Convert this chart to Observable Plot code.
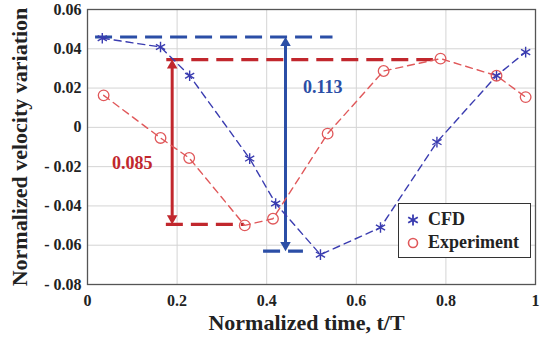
<!DOCTYPE html>
<html><head><meta charset="utf-8">
<script src="https://cdn.jsdelivr.net/npm/d3@7"></script>
<script src="https://cdn.jsdelivr.net/npm/@observablehq/plot@0.6"></script>
<style>
body{margin:0;background:#fff;}
#wrap{position:relative;width:541px;height:337px;font-family:"Liberation Serif","Times New Roman",serif;}
#legend{position:absolute;left:398px;top:203px;width:131px;height:53px;border:1.3px solid #333;background:#fff;font-weight:bold;font-size:18px;color:#222;}
#legend .it{position:absolute;left:8px;display:flex;align-items:center;}
#legend svg{margin-right:9px;}
</style></head><body><div id="wrap"></div>
<script>
// ---- data ----
const cfdT = [0.033, 0.163, 0.228, 0.362, 0.420, 0.520, 0.654, 0.780, 0.913, 0.978];
const cfdV = [0.0454, 0.0409, 0.0263, -0.0159, -0.0388, -0.0648, -0.0510, -0.0075, 0.0263, 0.0383];
const expT = [0.036, 0.163, 0.227, 0.351, 0.414, 0.536, 0.661, 0.788, 0.913, 0.978];
const expV = [0.0163, -0.0054, -0.0156, -0.0499, -0.0465, -0.0032, 0.0287, 0.0350, 0.0263, 0.0154];
const xTicks = [0, 0.2, 0.4, 0.6, 0.8, 1];
const yTicks = [-0.08, -0.06, -0.04, -0.02, 0, 0.02, 0.04, 0.06];
// range annotations: [max, min, label]
const cfdRange = [0.046, -0.063, "0.113"];
const expRange = [0.0345, -0.0494, "0.085"];

const blue = "#3a3cb0", red = "#e0585a";
const aBlue = "#2b4ea6", aRed = "#c1272d";
const FONT = '"Liberation Serif","Times New Roman",serif';

const cfd = cfdT.map((t, i) => ({t, v: cfdV[i]}));
const exp = expT.map((t, i) => ({t, v: expV[i]}));

const yFmt = d => d === 0 ? "0" : (d < 0 ? "- " + Math.abs(d).toFixed(2) : d.toFixed(2));
const xFmt = d => d === 0 ? "0" : d === 1 ? "1" : d.toFixed(1);

function rangeMarks(r, color, xLine1, xLow1, xLow2, xArrow, labelPos) {
  const [hi, lo, lab] = r;
  return [
    Plot.ruleY([hi], {x1: xLine1[0], x2: xLine1[1], stroke: color, strokeWidth: 3.2, strokeDasharray: "17,8"}),
    Plot.ruleY([lo], {x1: xLow1, x2: xLow2, stroke: color, strokeWidth: 3.2, strokeDasharray: "17,8"}),
    Plot.ruleX([xArrow], {y1: hi, y2: lo, stroke: color, strokeWidth: 3, insetTop: 8, insetBottom: 8}),
    Plot.dot([{x: xArrow, y: hi}], {x: "x", y: "y", symbol: "triangle", r: 3.9, fill: color, stroke: "none", dy: 6}),
    Plot.dot([{x: xArrow, y: lo}], {x: "x", y: "y", symbol: "triangle", r: 3.9, fill: color, stroke: "none", dy: -6, rotate: 180}),
    Plot.text([lab], {x: labelPos[0], y: labelPos[1], text: d => d, fill: color, fontSize: 18, fontWeight: "bold", fontFamily: FONT})
  ];
}

const plot = Plot.plot({
  width: 541, height: 337,
  marginLeft: 87, marginRight: 6, marginTop: 9, marginBottom: 53,
  style: {fontFamily: FONT, fontWeight: "bold", fontSize: "16px", color: "#222", background: "#fff"},
  x: {domain: [0, 1]},
  y: {domain: [-0.08, 0.06]},
  marks: [
    Plot.gridX(xTicks, {stroke: "#d4d4d4", strokeOpacity: 1}),
    Plot.gridY(yTicks, {stroke: "#d4d4d4", strokeOpacity: 1}),
    Plot.axisX(xTicks, {tickFormat: xFmt, tickSize: 0, tickPadding: 10, label: null, fontSize: 16, fontFamily: FONT}),
    Plot.axisY(yTicks, {tickFormat: yFmt, tickSize: 0, tickPadding: 6, label: null, fontSize: 16, fontFamily: FONT}),
    Plot.frame({stroke: "#555", strokeWidth: 1.3}),
    ...rangeMarks(cfdRange, aBlue, [0.018, 0.548], 0.393, 0.482, 0.442, [0.525, 0.0204]),
    ...rangeMarks(expRange, aRed, [0.177, 0.772], 0.176, 0.35, 0.189, [0.1, -0.0184]),
    Plot.line(cfd, {x: "t", y: "v", stroke: blue, strokeWidth: 1.4, strokeDasharray: "7,5"}),
    Plot.line(exp, {x: "t", y: "v", stroke: red, strokeWidth: 1.4, strokeDasharray: "7,5"}),
    Plot.dot(cfd, {x: "t", y: "v", symbol: "asterisk", r: 5, stroke: blue, strokeWidth: 1.4}),
    Plot.dot(exp, {x: "t", y: "v", r: 5.3, stroke: red, fill: "none", strokeWidth: 1.3}),
    Plot.text(["Normalized time, t/T"], {frameAnchor: "bottom", dx: -5, dy: 45, text: d => d, fontSize: 22, fontWeight: "bold", fill: "#222", fontFamily: FONT}),
    Plot.text(["Normalized velocity variation"], {frameAnchor: "left", textAnchor: "middle", dx: -68, rotate: -90, text: d => d, fontSize: 22, fontWeight: "bold", fill: "#222", fontFamily: FONT})
  ]
});
const wrap = document.getElementById("wrap");
wrap.appendChild(plot);
const leg = document.createElement("div");
leg.id = "legend";
leg.innerHTML = `
<div class="it" style="top:5px"><svg width="12" height="14" viewBox="-6 -7 12 14"><path d="M0,-5.5V5.5M-4.8,-2.8L4.8,2.8M-4.8,2.8L4.8,-2.8" stroke="${blue}" stroke-width="1.8"/></svg>CFD</div>
<div class="it" style="top:28px"><svg width="12" height="14" viewBox="-6 -7 12 14"><circle r="4.5" fill="none" stroke="${red}" stroke-width="1.6"/></svg>Experiment</div>`;
wrap.appendChild(leg);
</script></body></html>
